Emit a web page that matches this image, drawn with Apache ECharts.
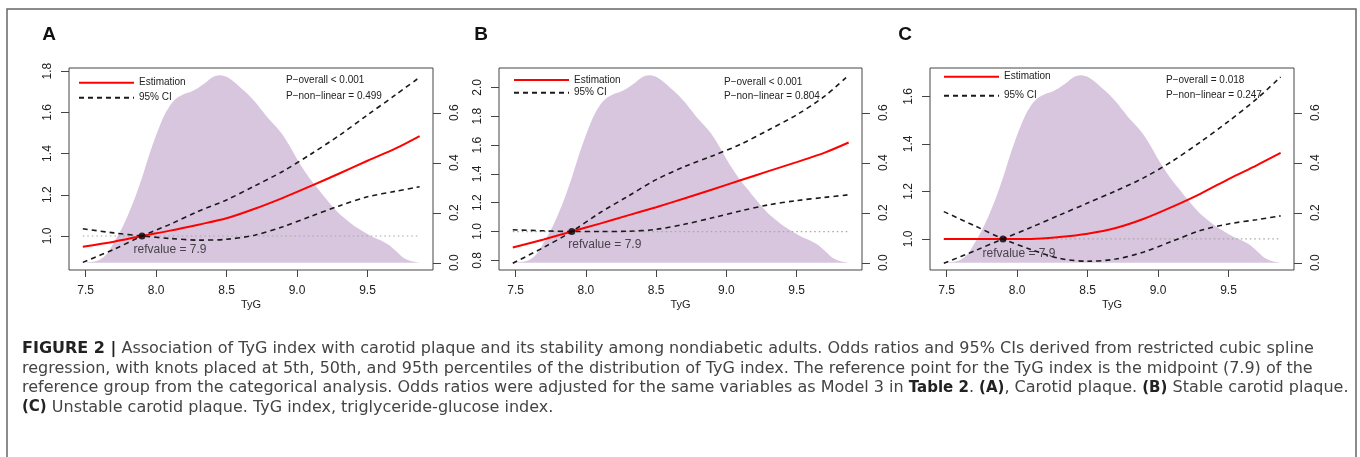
<!DOCTYPE html>
<html>
<head>
<meta charset="utf-8">
<title>TyG restricted cubic spline</title>
<script src="https://cdn.jsdelivr.net/npm/echarts@6/dist/echarts.min.js"></script>
<style>
	html, body { margin: 0; padding: 0; background: #fff; }
	#main { width: 1360px; height: 457px; }
</style>
</head>
<body>
<div id="main"></div>
<script>
// TyG values the curves were read at
var tyg = [7.48, 7.7, 7.9, 8.1, 8.3, 8.5, 8.7, 8.9, 9.1, 9.3, 9.5, 9.7, 9.87];

// A - carotid plaque
var estA = [0.948, 0.972, 1.0, 1.026, 1.055, 1.086, 1.132, 1.185, 1.243, 1.303, 1.365, 1.425, 1.485];
var upA = [0.872, 0.935, 1.0, 1.057, 1.12, 1.175, 1.243, 1.314, 1.398, 1.488, 1.587, 1.685, 1.77];
var loA = [1.035, 1.015, 1.0, 0.988, 0.98, 0.984, 1.004, 1.045, 1.096, 1.146, 1.19, 1.217, 1.239];

// B - stable carotid plaque
var estB = [0.889, 0.945, 1.0, 1.055, 1.112, 1.169, 1.229, 1.292, 1.356, 1.419, 1.482, 1.548, 1.618];
var upB = [0.78, 0.89, 1.0, 1.13, 1.245, 1.36, 1.45, 1.525, 1.605, 1.705, 1.81, 1.94, 2.085];
var loB = [1.012, 1.005, 1.0, 1.0, 1.002, 1.015, 1.05, 1.095, 1.143, 1.185, 1.215, 1.237, 1.255];

// C - unstable carotid plaque
var estC = [1.0, 1.0, 1.0, 1.0, 1.008, 1.022, 1.046, 1.085, 1.135, 1.19, 1.252, 1.31, 1.362];
var upC = [0.897, 0.95, 1.0, 1.049, 1.10, 1.151, 1.202, 1.258, 1.327, 1.408, 1.495, 1.59, 1.682];
var loC = [1.115, 1.055, 1.0, 0.955, 0.918, 0.906, 0.915, 0.945, 0.99, 1.035, 1.063, 1.081, 1.097];

// density of TyG (right axis)
var densX = [7.48, 7.55, 7.6, 7.65, 7.7, 7.75, 7.8, 7.85, 7.9, 7.95, 8.0, 8.05, 8.1, 8.15, 8.2, 8.25,
	8.3, 8.35, 8.4, 8.45, 8.5, 8.55, 8.6, 8.65, 8.7, 8.75, 8.8, 8.85, 8.9, 8.95, 9.0,
	9.05, 9.1, 9.15, 9.2, 9.25, 9.3, 9.35, 9.4, 9.45, 9.5, 9.55, 9.6, 9.65, 9.7, 9.75, 9.8, 9.87];
var densY = [0, 0.004, 0.012, 0.035, 0.08, 0.13, 0.19, 0.26, 0.34, 0.43, 0.51, 0.58, 0.63, 0.66, 0.675, 0.685,
	0.7, 0.72, 0.742, 0.75, 0.744, 0.725, 0.7, 0.675, 0.645, 0.61, 0.575, 0.545, 0.51, 0.465, 0.415,
	0.37, 0.33, 0.295, 0.26, 0.226, 0.196, 0.172, 0.15, 0.132, 0.115, 0.1, 0.088, 0.072, 0.048, 0.022, 0.008, 0];

var refX = [7.48, 9.87];
var refValue = 7.9;

var xTicks = [7.5, 8.0, 8.5, 9.0, 9.5];
var yTicksA = [1.0, 1.2, 1.4, 1.6, 1.8];
var yTicksB = [0.8, 1.0, 1.2, 1.4, 1.6, 1.8, 2.0];
var yTicksC = [1.0, 1.2, 1.4, 1.6];
var densTicks = [0, 0.2, 0.4, 0.6];

var pA = ['P\u2212overall < 0.001', 'P\u2212non\u2212linear = 0.499'];
var pB = ['P\u2212overall < 0.001', 'P\u2212non\u2212linear = 0.804'];
var pC = ['P\u2212overall = 0.018', 'P\u2212non\u2212linear = 0.247'];

var captionLines = [
	'{f|FIGURE 2 |} Association of TyG index with carotid plaque and its stability among nondiabetic adults. Odds ratios and 95% CIs derived from restricted cubic spline',
	'regression, with knots placed at 5th, 50th, and 95th percentiles of the distribution of TyG index. The reference point for the TyG index is the midpoint (7.9) of the',
	'reference group from the categorical analysis. Odds ratios were adjusted for the same variables as Model 3 in {b|Table 2}. {b|(A)}, Carotid plaque. {b|(B)} Stable carotid plaque.',
	'{b|(C)} Unstable carotid plaque. TyG index, triglyceride-glucose index.'
];

var FONT = '"Liberation Sans", Arial, Helvetica, sans-serif';
var CAPTION_FONT = '"DejaVu Sans", "Liberation Sans", sans-serif';

var panels = [
	{ tag: 'A', est: estA, up: upA, lo: loA, ticks: yTicksA, yMin: 0.835, yMax: 1.815, p: pA,
		box: { left: 69, top: 68, width: 364, height: 202 }, tagX: 49,
		legend: { left: 78, top: 77.7, gap: 5 }, pX: 286, pY: [80, 96], refOffset: [28, 14] },
	{ tag: 'B', est: estB, up: upB, lo: loB, ticks: yTicksB, yMin: 0.733, yMax: 2.135, p: pB,
		box: { left: 499, top: 68, width: 363, height: 202 }, tagX: 481,
		legend: { left: 513, top: 75, gap: 2.7 }, pX: 724, pY: [82.7, 96.7], refOffset: [33, 13] },
	{ tag: 'C', est: estC, up: upC, lo: loC, ticks: yTicksC, yMin: 0.869, yMax: 1.72, p: pC,
		box: { left: 930, top: 68, width: 364, height: 202 }, tagX: 905,
		legend: { left: 943, top: 71.7, gap: 9 }, pX: 1166, pY: [80.7, 95.7], refOffset: [16, 15] }
];

function zip(xs, ys) {
	return xs.map(function (x, i) { return [x, ys[i]]; });
}
function fmt1(v) {
	return Number(v).toFixed(1);
}

var chart = echarts.init(document.getElementById('main'), null, { renderer: 'canvas' });

var grids = [], xAxes = [], yAxes = [], series = [], legends = [], graphics = [];

panels.forEach(function (pn, i) {
	grids.push({
		left: pn.box.left, top: pn.box.top, width: pn.box.width, height: pn.box.height,
		show: true, borderColor: '#444', borderWidth: 1, backgroundColor: 'transparent',
		containLabel: false, outerBoundsMode: 'none'
	});

	xAxes.push({
		type: 'value', gridIndex: i, min: 7.382, max: 9.965,
		name: 'TyG', nameLocation: 'middle', nameGap: 29,
		nameTextStyle: { fontSize: 11, color: '#222', fontFamily: FONT },
		axisLine: { show: false, onZero: false },
		axisTick: { show: true, customValues: xTicks, length: 7, lineStyle: { color: '#444' } },
		axisLabel: { customValues: xTicks, formatter: fmt1, margin: 15, fontSize: 12, color: '#222', fontFamily: FONT },
		splitLine: { show: false }
	});

	// left: odds ratio
	yAxes.push({
		type: 'value', gridIndex: i, position: 'left', min: pn.yMin, max: pn.yMax,
		axisLine: { show: false, onZero: false },
		axisTick: { show: true, customValues: pn.ticks, length: 8, lineStyle: { color: '#444' } },
		axisLabel: { customValues: pn.ticks, formatter: fmt1, rotate: 90, margin: 15, fontSize: 12, color: '#222', fontFamily: FONT },
		splitLine: { show: false }
	});
	// right: density
	yAxes.push({
		type: 'value', gridIndex: i, position: 'right', min: -0.029, max: 0.779,
		axisLine: { show: false, onZero: false },
		axisTick: { show: true, customValues: densTicks, length: 8, lineStyle: { color: '#444' } },
		axisLabel: { customValues: densTicks, formatter: fmt1, rotate: 90, margin: 16, fontSize: 12, color: '#222', fontFamily: FONT },
		splitLine: { show: false }
	});

	series.push({
		name: 'density', type: 'line', xAxisIndex: i, yAxisIndex: 2 * i + 1,
		data: zip(densX, densY), symbol: 'none', smooth: 0.3, silent: true, z: 1,
		lineStyle: { width: 0 },
		itemStyle: { color: '#d8c6df' },
		areaStyle: { color: '#d8c6df', opacity: 1 }
	});
	series.push({
		name: 'ref', type: 'line', xAxisIndex: i, yAxisIndex: 2 * i,
		data: zip(refX, [1, 1]), symbol: 'none', silent: true, z: 2,
		itemStyle: { color: '#a6a6a6' },
		lineStyle: { color: '#a6a6a6', width: 1.2, type: [1.5, 3] }
	});
	series.push({
		name: '95% CI', type: 'line', xAxisIndex: i, yAxisIndex: 2 * i,
		data: zip(tyg, pn.up), symbol: 'none', smooth: 0.3, z: 3,
		itemStyle: { color: '#1a1a1a' },
		lineStyle: { color: '#1a1a1a', width: 1.6, type: [5, 4] }
	});
	series.push({
		name: '95% CI', type: 'line', xAxisIndex: i, yAxisIndex: 2 * i,
		data: zip(tyg, pn.lo), symbol: 'none', smooth: 0.3, z: 3,
		itemStyle: { color: '#1a1a1a' },
		lineStyle: { color: '#1a1a1a', width: 1.6, type: [5, 4] }
	});
	series.push({
		name: 'Estimation', type: 'line', xAxisIndex: i, yAxisIndex: 2 * i,
		data: zip(tyg, pn.est), symbol: 'none', smooth: 0.3, z: 4,
		itemStyle: { color: '#ff0000' },
		lineStyle: { color: '#ff0000', width: 2 }
	});
	series.push({
		name: 'refpoint', type: 'scatter', xAxisIndex: i, yAxisIndex: 2 * i,
		data: [[refValue, 1.0]], symbol: 'circle', symbolSize: 7, z: 5,
		itemStyle: { color: '#000' },
		label: {
			show: true, position: 'inside', offset: pn.refOffset,
			formatter: 'refvalue = ' + refValue, fontSize: 12, color: '#222', fontFamily: FONT
		}
	});

	legends.push({
		data: ['Estimation', '95% CI'], orient: 'vertical', selectedMode: false,
		left: pn.legend.left, top: pn.legend.top, padding: 0, itemGap: pn.legend.gap,
		itemWidth: 55, itemHeight: 10,
		itemStyle: { opacity: 0 },
		textStyle: { fontSize: 10, color: '#222', fontFamily: FONT, lineHeight: 10 }
	});

	graphics.push({
		type: 'text', x: pn.tagX, y: 35,
		style: { text: pn.tag, fontSize: 19, fontWeight: 'bold', fontFamily: FONT, fill: '#111', align: 'center', verticalAlign: 'middle' }
	});
	pn.p.forEach(function (t, k) {
		graphics.push({
			type: 'text', x: pn.pX, y: pn.pY[k],
			style: { text: t, fontSize: 10, fontFamily: FONT, fill: '#222', align: 'left', verticalAlign: 'middle' }
		});
	});
});

// outer frame of the figure
graphics.push({
	type: 'rect', z: -1, shape: { x: 7, y: 9, width: 1349, height: 520 },
	style: { fill: 'none', stroke: '#666', lineWidth: 1.5 }
});

captionLines.forEach(function (line, k) {
	graphics.push({
		type: 'text', x: 22, y: 349 + k * 19.5,
		style: {
			text: line, fontSize: 16, fontFamily: CAPTION_FONT, fill: '#444', align: 'left', verticalAlign: 'middle',
			rich: {
				f: { fontWeight: 'bold', fontSize: 16, fontFamily: CAPTION_FONT, fill: '#222' },
				b: { fontWeight: 'bold', fontSize: 15, fontFamily: CAPTION_FONT, fill: '#222' }
			}
		}
	});
});

chart.setOption({
	animation: false,
	textStyle: { fontFamily: FONT },
	grid: grids,
	xAxis: xAxes,
	yAxis: yAxes,
	legend: legends,
	series: series,
	graphic: graphics
});
</script>
</body>
</html>
